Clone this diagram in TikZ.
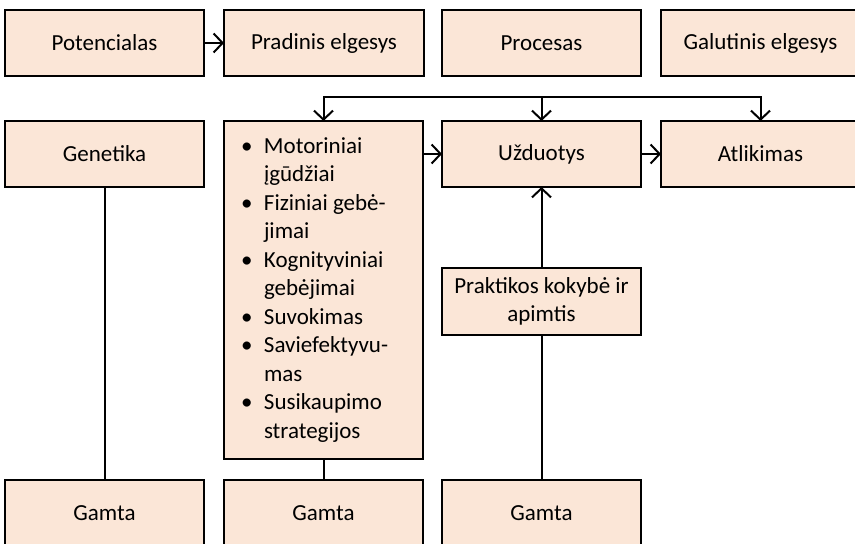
\documentclass[tikz,border=0pt]{standalone}
\usepackage{fontspec}
\setmainfont{Carlito}
\usetikzlibrary{arrows.meta}
\definecolor{peach}{HTML}{FBE6D7}
% bullet and continuation indent for the list box
\newcommand\bitem{\makebox[23pt][l]{•}}
\newcommand\bcont{\hspace*{23pt}}
\begin{document}
\begin{tikzpicture}[x=1pt,y=1pt,
  box/.style={draw=black, line width=2pt, fill=peach,
    minimum width=199pt, minimum height=66pt, inner sep=0pt, outer sep=0pt,
    font=\fontsize{23}{28.5}\selectfont, align=center},
  link/.style={line width=2pt},
  arr/.style={link, -{Straight Barb[length=9pt,width=19pt]}}]
\useasboundingbox (0,0) rectangle (855,544);
\clip (0,0) rectangle (855,544);

% top row
\node[box] (pot) at (104.5,501) {Potencialas};
\node[box, minimum width=200pt] (pra) at (324,501) {Pradinis elgesys};
\node[box] (pro) at (541.5,501) {Procesas};
\node[box] (gal) at (760.5,501) {Galutinis elgesys};

% middle row
\node[box] (gen) at (104.5,390) {Genetika};
\node[box, minimum height=338pt, text width=165pt, inner xsep=17pt, align=flush left] (mot) at (323.5,254)
  {\bitem Motoriniai\\ \bcont įgūdžiai\\
   \bitem Fiziniai gebė-\\ \bcont jimai\\
   \bitem Kognityviniai\\ \bcont gebėjimai\\
   \bitem Suvokimas\\
   \bitem Saviefektyvu-\\ \bcont mas\\
   \bitem Susikaupimo\\ \bcont strategijos};
\node[box] (uzd) at (541.5,390) {Užduotys};
\node[box] (atl) at (760.5,390) {Atlikimas};
\node[box, minimum height=67pt] (prak) at (541.5,242.5) {Praktikos kokybė ir\\apimtis};

% bottom row
\node[box] (gam1) at (104.5,31) {Gamta};
\node[box] (gam2) at (323.5,31) {Gamta};
\node[box] (gam3) at (541.5,31) {Gamta};

% connectors
\coordinate (bus) at (541.5,447);
\draw[arr] (pot.east) -- (pra.west);
\draw[arr] (bus) -| (mot.north);
\draw[arr] (bus) -| (atl.north);
\draw[arr] (bus) -- (uzd.north);
\draw[arr] (mot.east |- uzd.west) -- (uzd.west);
\draw[arr] (uzd.east) -- (atl.west);
\draw[arr] (prak.north) -- (uzd.south);
\draw[link] (gen.south) -- (gam1.north);
\draw[link] (mot.south) -- (gam2.north);
\draw[link] (prak.south) -- (gam3.north);
\end{tikzpicture}
\end{document}
